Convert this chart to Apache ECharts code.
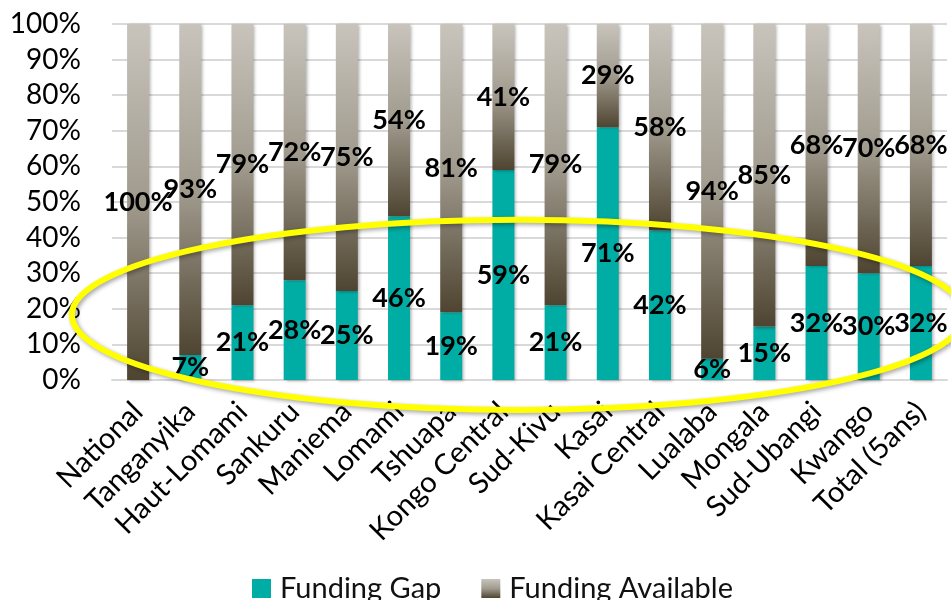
<!DOCTYPE html>
<html>
<head>
<meta charset="utf-8">
<title>Funding Gap vs Funding Available</title>
<script src="https://cdn.jsdelivr.net/npm/echarts@6/dist/echarts.min.js"></script>
<style>
  html, body { margin: 0; padding: 0; background: #ffffff; }
  #chart { width: 951px; height: 600px; }
</style>
</head>
<body>
<div id="chart"></div>
<script>
// Provinces (plus national level and 5-year total)
const categories = [
  'National', 'Tanganyika', 'Haut-Lomami', 'Sankuru', 'Maniema', 'Lomami',
  'Tshuapa', 'Kongo Central', 'Sud-Kivu', 'Kasai', 'Kasai Central', 'Lualaba',
  'Mongala', 'Sud-Ubangi', 'Kwango', 'Total (5ans)'
];

// Share of the budget, in percent
const fundingGap = [0, 7, 21, 28, 25, 46, 19, 59, 21, 71, 42, 6, 15, 32, 30, 32];
const fundingAvailable = [100, 93, 79, 72, 75, 54, 81, 41, 79, 29, 58, 94, 85, 68, 70, 68];

const yTicks = [0, 10, 20, 30, 40, 50, 60, 70, 80, 90, 100];

// Highlight ring, in axis units: centre (category index, percent) and radii
const highlight = { cx: 7.28, cy: 18.3, rx: 8.55, ry: 26.7 };

const FONT = 'Lato, "Open Sans", sans-serif';

const chart = echarts.init(document.getElementById('chart'), null, { renderer: 'canvas' });

const barShadow = {
  shadowColor: 'rgba(0,0,0,0.30)',
  shadowBlur: 3,
  shadowOffsetX: 2,
  shadowOffsetY: 1
};

const labelStyle = {
  show: true,
  position: 'inside',
  color: '#000000',
  fontFamily: FONT,
  fontWeight: 'bold',
  fontSize: 27,
  formatter: p => (p.value > 0 ? p.value + '%' : '')
};

chart.setOption({
  animation: false,
  backgroundColor: '#ffffff',
  textStyle: { fontFamily: FONT },
  grid: { left: 112, right: 4, top: 24, bottom: 220, containLabel: false },
  legend: {
    left: 247,
    top: 569,
    itemWidth: 19,
    itemHeight: 19,
    itemGap: 40,
    icon: 'rect',
    textStyle: { fontFamily: FONT, fontSize: 29, color: '#111111', padding: [0, 0, 0, 4] },
    data: ['Funding Gap', 'Funding Available']
  },
  xAxis: {
    type: 'category',
    data: categories,
    axisLine: { show: true, lineStyle: { color: '#d9d9d9', width: 2 } },
    axisTick: { show: false },
    axisLabel: {
      rotate: 45,
      interval: 0,
      margin: 27,
      padding: [30, 0, 0, 0],
      fontFamily: FONT,
      fontSize: 29,
      color: '#000000'
    }
  },
  yAxis: {
    type: 'value',
    min: yTicks[0],
    max: yTicks[yTicks.length - 1],
    interval: yTicks[1] - yTicks[0],
    axisLine: { show: false },
    axisTick: { show: false },
    splitLine: { lineStyle: { color: '#d9d9d9', width: 2 } },
    axisLabel: {
      margin: 31,
      fontFamily: FONT,
      fontSize: 28,
      color: '#000000',
      formatter: v => v + '%'
    }
  },
  series: [
    {
      name: 'Funding Gap',
      type: 'bar',
      stack: 'share',
      barWidth: 22,
      data: fundingGap,
      itemStyle: Object.assign({ color: '#00ada5' }, barShadow),
      label: labelStyle
    },
    {
      name: 'Funding Available',
      type: 'bar',
      stack: 'share',
      barWidth: 22,
      data: fundingAvailable,
      itemStyle: Object.assign({
        color: new echarts.graphic.LinearGradient(0, 0, 0, 1, [
          { offset: 0, color: '#c8c4bc' },
          { offset: 0.5, color: '#a19b8e' },
          { offset: 1, color: '#4e4431' }
        ])
      }, barShadow),
      label: labelStyle
    }
  ]
});

// Place the yellow highlight ring using the axes' own scales
function drawHighlight() {
  const x0 = chart.convertToPixel({ xAxisIndex: 0 }, categories[0]);
  const x1 = chart.convertToPixel({ xAxisIndex: 0 }, categories[1]);
  const step = x1 - x0;
  const yZero = chart.convertToPixel({ yAxisIndex: 0 }, 0);
  const yTen = chart.convertToPixel({ yAxisIndex: 0 }, 10);
  const perPct = (yZero - yTen) / 10;
  chart.setOption({
    graphic: [{
      type: 'ellipse',
      z: 100,
      silent: true,
      shape: {
        cx: x0 + highlight.cx * step,
        cy: yZero - highlight.cy * perPct,
        rx: highlight.rx * step,
        ry: highlight.ry * perPct
      },
      style: {
        fill: 'none',
        stroke: '#ffff00',
        lineWidth: 6,
        shadowColor: 'rgba(0,0,0,0.35)',
        shadowBlur: 4,
        shadowOffsetX: 2,
        shadowOffsetY: 2
      }
    }]
  });
}
drawHighlight();
</script>
</body>
</html>
